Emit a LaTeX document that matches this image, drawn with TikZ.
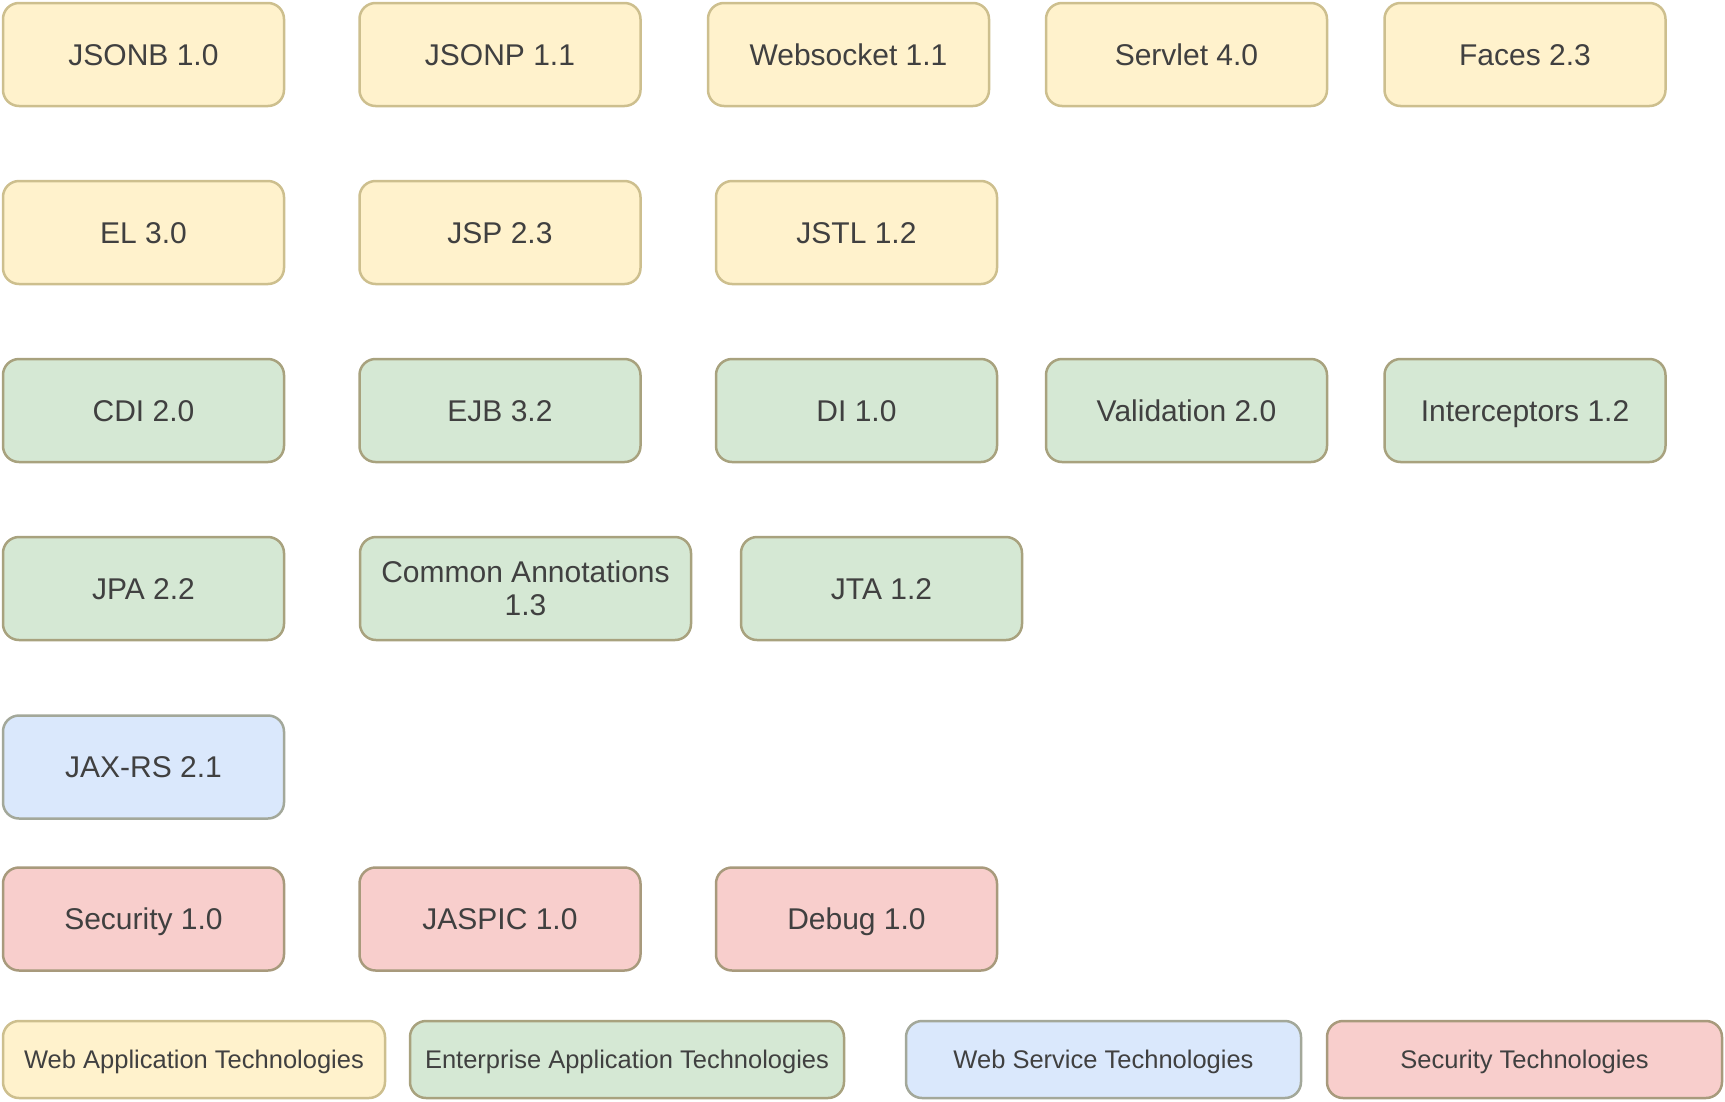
\documentclass[tikz,border=0pt]{standalone}
\usepackage{fontspec}
\setmainfont{Liberation Sans}
\definecolor{webfill}{HTML}{FFF2CC}
\definecolor{webline}{HTML}{CDBF8E}
\definecolor{entfill}{HTML}{D5E8D4}
\definecolor{entline}{HTML}{A8A27E}
\definecolor{wsfill}{HTML}{DAE8FC}
\definecolor{wsline}{HTML}{A3A89A}
\definecolor{secfill}{HTML}{F8CECC}
\definecolor{secline}{HTML}{A89A7C}
\definecolor{txt}{HTML}{404040}
\tikzset{
  spec/.style={draw, line width=2.5pt, rounded corners=16pt, minimum width=281pt,
    minimum height=103pt, inner sep=0pt, text=txt, align=center,
    text height=21.5pt, text depth=0pt, font=\fontsize{30}{33}\selectfont},
  legend/.style={spec, minimum height=77pt, text height=17pt, text depth=0pt,
    font=\fontsize{25.5}{28}\selectfont},
  web/.style={fill=webfill, draw=webline},
  ent/.style={fill=entfill, draw=entline},
  ws/.style={fill=wsfill, draw=wsline},
  sec/.style={fill=secfill, draw=secline}
}
\begin{document}
\begin{tikzpicture}[x=1pt, y=-1pt]
  \useasboundingbox (0,0) rectangle (1725,1101);
  % web application
  \node[spec, web] (jsonb) at (143.5, 54.5) {JSONB 1.0};
  \node[spec, web] (jsonp) at (500, 54.5) {JSONP 1.1};
  \node[spec, web] (websocket) at (848.5, 54.5) {Websocket 1.1};
  \node[spec, web] (servlet) at (1186.5, 54.5) {Servlet 4.0};
  \node[spec, web] (faces) at (1525, 54.5) {Faces 2.3};
  \node[spec, web] (el) at (143.5, 232.5) {EL 3.0};
  \node[spec, web] (jsp) at (500, 232.5) {JSP 2.3};
  \node[spec, web] (jstl) at (856.5, 232.5) {JSTL 1.2};
  % enterprise application
  \node[spec, ent] (cdi) at (143.5, 410.5) {CDI 2.0};
  \node[spec, ent] (ejb) at (500, 410.5) {EJB 3.2};
  \node[spec, ent] (di) at (856.5, 410.5) {DI 1.0};
  \node[spec, ent] (validation) at (1186.5, 410.5) {Validation 2.0};
  \node[spec, ent] (interceptors) at (1525, 410.5) {Interceptors 1.2};
  \node[spec, ent] (jpa) at (143.5, 588.5) {JPA 2.2};
  \node[spec, ent, minimum width=331pt, text height={}, text depth={}] (annotations)
    at (525.5, 588.5) {Common Annotations\\1.3};
  \node[spec, ent] (jta) at (881.5, 588.5) {JTA 1.2};
  % web service
  \node[spec, ws] (jaxrs) at (143.5, 767) {JAX-RS 2.1};
  % security
  \node[spec, sec] (security) at (143.5, 919) {Security 1.0};
  \node[spec, sec] (jaspic) at (500, 919) {JASPIC 1.0};
  \node[spec, sec] (debug) at (856.5, 919) {Debug 1.0};
  % legend
  \node[legend, web, minimum width=382pt] (lweb) at (194, 1059.5) {Web Application Technologies};
  \node[legend, ent, minimum width=434pt] (lent) at (627, 1059.5) {Enterprise Application Technologies};
  \node[legend, ws, minimum width=395pt] (lws) at (1103.5, 1059.5) {Web Service Technologies};
  \node[legend, sec, minimum width=395pt] (lsec) at (1524.5, 1059.5) {Security Technologies};
\end{tikzpicture}
\end{document}
